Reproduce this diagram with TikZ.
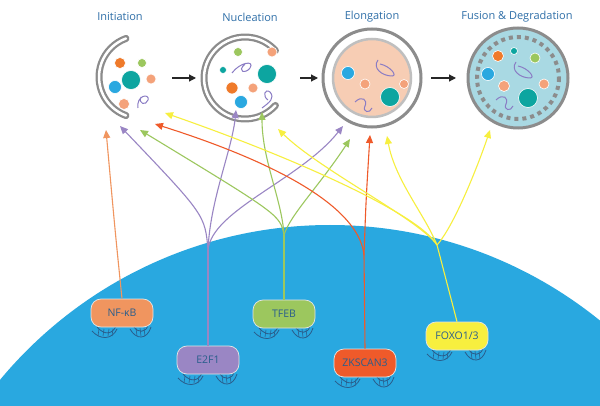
\documentclass[tikz,border=0pt]{standalone}
\usepackage{fontspec}
\setmainfont{Open Sans}
\usetikzlibrary{arrows.meta,shapes.geometric}
\definecolor{nuc}{HTML}{29A8E0}
\definecolor{ttl}{HTML}{2F6FA8}
\definecolor{tx}{HTML}{2A5E8C}
\definecolor{cor}{HTML}{F0955F}
\definecolor{cpu}{HTML}{9A86C4}
\definecolor{cgr}{HTML}{9CC75E}
\definecolor{cre}{HTML}{EF5A2A}
\definecolor{cye}{HTML}{F7EF3F}
\definecolor{dor}{HTML}{EF7A2A}
\definecolor{dte}{HTML}{0DA5A0}
\definecolor{dbl}{HTML}{2AA8E0}
\definecolor{dpk}{HTML}{F4A27A}
\definecolor{sq}{HTML}{8A7CC4}
\definecolor{peach}{HTML}{F7CDB4}
\definecolor{lblue}{HTML}{A9D9E3}
\definecolor{mem}{HTML}{8C8C8C}
\begin{document}
\begin{tikzpicture}[x=1pt,y=-1pt,
 title/.style={text=ttl,font=\fontsize{11}{13}\selectfont},
 tf/.style={draw=white!80!gray,line width=0.7pt,rounded corners=10pt,minimum width=62pt,minimum height=28pt,text=tx,font=\fontsize{10.5}{12}\selectfont},
 arr/.style={-{Triangle[length=8pt,width=7pt]},line width=1.1pt},
 blk/.style={-{Triangle[length=7pt,width=7pt]},line width=1.2pt,black!85},
 dna/.style={tx,line width=0.8pt},
 dot/.style={circle,inner sep=0pt,draw=white,line width=0.6pt},
 sqg/.style={sq,line width=1pt}]
\useasboundingbox (0,0) rectangle (600,406);
\fill[white] (0,0) rectangle (600,406);
\begin{scope}
\clip (0,0) rectangle (600,406);
\fill[nuc] (330,654) circle (429);
\end{scope}
% titles
\node[title] (t1) at (120,17) {Initiation};
\node[title] (t2) at (250,17) {Nucleation};
\node[title] (t3) at (372,17) {Elongation};
\node[title] (t4) at (517,17) {Fusion \& Degradation};
% initiation
\draw[mem,line width=7pt,line cap=round] (140,77) ++(110:41) arc (110:250:41);
\draw[white,line width=2.5pt,line cap=round] (140,77) ++(110:41) arc (110:250:41);
\node[dot,fill=dor,minimum size=11pt] at (120,63) {};
\node[dot,fill=cgr,minimum size=9pt] at (142,63) {};
\node[dot,fill=dte,minimum size=19pt] at (131,80) {};
\node[dot,fill=dbl,minimum size=13pt] at (115,87) {};
\node[dot,fill=dpk,minimum size=10pt] at (151,79) {};
\node[dot,fill=dpk,minimum size=11pt] at (124,104) {};
\draw[sqg] (138,108) .. controls (136,95) and (150,93) .. (148,100) .. controls (146,106) and (138,104) .. (141,97);
% nucleation
\draw[mem,line width=7pt,line cap=round] (245,78) ++(42:41) arc (42:318:41);
\draw[white,line width=2.5pt,line cap=round] (245,78) ++(42:41) arc (42:318:41);
\node[dot,fill=cgr,minimum size=9pt] at (238,52) {};
\node[dot,fill=dpk,minimum size=10pt] at (272,52) {};
\node[dot,fill=dte,minimum size=7pt] at (223,70) {};
\node[dot,fill=dte,minimum size=19pt] at (267,74) {};
\node[dot,fill=dor,minimum size=12pt] at (232,88) {};
\node[dot,fill=dpk,minimum size=10pt] at (253,88) {};
\node[dot,fill=dbl,minimum size=13pt] at (241,102) {};
\draw[sqg] (232,73) .. controls (240,62) and (255,60) .. (250,68) .. controls (246,74) and (236,72) .. (245,64);
\draw[sqg] (262,108) .. controls (270,102) and (275,98) .. (270,92) .. controls (265,88) and (262,96) .. (268,100);
% elongation
\draw[mem,line width=3pt,fill=white] (372,78) circle (49);
\draw[gray!50,line width=2.5pt,fill=peach] (372,78) circle (39);
\node[dot,fill=dbl,minimum size=13pt] at (348,73) {};
\node[dot,fill=dpk,minimum size=10pt] at (365,84) {};
\node[dot,fill=dpk,minimum size=9pt] at (404,84) {};
\node[dot,fill=dte,minimum size=19pt] at (390,97) {};
\draw[sqg] (378,60) .. controls (372,68) and (382,76) .. (392,76) .. controls (398,76) and (390,66) .. (380,64);
\draw[sqg] (355,102) .. controls (362,95) and (368,100) .. (365,106) .. controls (362,112) and (370,114) .. (372,108);
% fusion
\draw[mem,line width=3pt,fill=lblue] (518,78) circle (50);
\draw[mem,line width=4pt,dash pattern=on 4pt off 4pt] (518,78) circle (41);
\node[dot,fill=dor,minimum size=11pt] at (498,56) {};
\node[dot,fill=dte,minimum size=7pt] at (514,51) {};
\node[dot,fill=cgr,minimum size=10pt] at (535,58) {};
\node[dot,fill=dbl,minimum size=13pt] at (488,74) {};
\node[dot,fill=dpk,minimum size=11pt] at (504,86) {};
\node[dot,fill=dpk,minimum size=10pt] at (544,84) {};
\node[dot,fill=dte,minimum size=19pt] at (528,98) {};
\draw[sqg] (516,62) .. controls (510,70) and (520,78) .. (530,78) .. controls (536,78) and (528,68) .. (518,66);
\draw[sqg] (496,100) .. controls (503,93) and (509,98) .. (506,104) .. controls (503,110) and (511,112) .. (513,106);
% black arrows
\coordinate (a1s) at (172,78); \coordinate (a1e) at (196,78);
\coordinate (a2s) at (300,78); \coordinate (a2e) at (318,78);
\coordinate (a3s) at (431,78); \coordinate (a3e) at (456,78);
\draw[blk] (a1s) -- (a1e); \draw[blk] (a2s) -- (a2e); \draw[blk] (a3s) -- (a3e);
% DNA
\foreach \x/\y in {122/313,208/360,284/314,365/363,457/336}{
 \begin{scope}[shift={(\x,\y)}]
 \draw[dna] (-30,18) .. controls (-22,27) and (-10,27) .. (-5,16);
 \draw[dna] (-25,14) .. controls (-18,22) and (-10,22) .. (-6,13);
 \foreach \t in {-23,-18,-13,-9}{\draw[dna,line width=0.6pt] (\t,16) -- (\t-1,23);}
 \draw[dna] (8,16) .. controls (14,27) and (25,27) .. (29,14);
 \draw[dna] (12,14) .. controls (16,20) and (24,20) .. (26,12);
 \foreach \t in {14,18,22}{\draw[dna,line width=0.6pt] (\t,15) -- (\t+1,23);}
 \end{scope}}
% TF nodes
\node[tf,fill=cor] (nf) at (122,313) {NF-κB};
\node[tf,fill=cpu] (e2) at (208,360) {E2F1};
\node[tf,fill=cgr] (tb) at (284,314) {TFEB};
\node[tf,fill=cre] (zk) at (365,363) {ZKSCAN3};
\node[tf,fill=cye] (fx) at (457,336) {FOXO1/3};
% targets
\coordinate (nfT) at (106,130);
\coordinate (e2a) at (120,126); \coordinate (e2b) at (236,110); \coordinate (e2c) at (343,126);
\coordinate (tba) at (140,130); \coordinate (tbb) at (262,112); \coordinate (tbc) at (350,139);
\coordinate (zka) at (155,124); \coordinate (zkc) at (370,135);
\coordinate (fxa) at (165,113); \coordinate (fxb) at (278,129); \coordinate (fxc) at (387,136); \coordinate (fxd) at (490,130);
\coordinate (e2m) at (208,250); \coordinate (tbm) at (284,235); \coordinate (zkm) at (364,255); \coordinate (fxm) at (437,245);
% connectors
\draw[arr,cor] (nf.north) .. controls (115,230) .. (nfT);
\draw[cpu,line width=1.1pt] (e2.north) -- (e2m);
\draw[arr,cpu] (e2m) .. controls (205,215) .. (e2a);
\draw[arr,cpu] (e2m) .. controls (210,200) and (232,150) .. (e2b);
\draw[arr,cpu] (e2m) .. controls (212,210) and (300,180) .. (e2c);
\draw[cgr,line width=1.1pt] (tb.north) -- (tbm);
\draw[arr,cgr] (tbm) .. controls (280,215) .. (tba);
\draw[arr,cgr] (tbm) .. controls (282,200) and (262,160) .. (tbb);
\draw[arr,cgr] (tbm) .. controls (290,215) and (320,185) .. (tbc);
\draw[cre,line width=1.1pt] (zk.north) -- (zkm);
\draw[arr,cre] (zkm) .. controls (360,215) and (300,170) .. (zka);
\draw[arr,cre] (zkm) .. controls (366,200) .. (zkc);
\draw[cye,line width=1.1pt] (fx.north) -- (fxm);
\draw[arr,cye] (fxm) .. controls (420,215) and (300,160) .. (fxa);
\draw[arr,cye] (fxm) .. controls (420,220) and (320,170) .. (fxb);
\draw[arr,cye] (fxm) .. controls (425,215) and (395,180) .. (fxc);
\draw[arr,cye] (fxm) .. controls (455,225) and (480,160) .. (fxd);
\end{tikzpicture}
\end{document}
